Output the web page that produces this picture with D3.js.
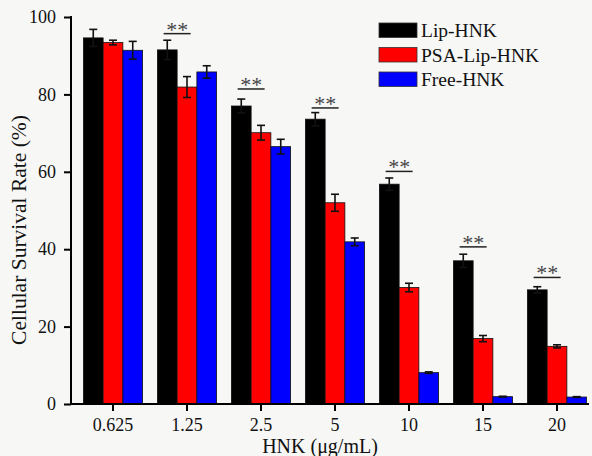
<!DOCTYPE html>
<html>
<head>
<meta charset="utf-8">
<script src="https://cdn.jsdelivr.net/npm/d3@7"></script>
<style>
  body { margin: 0; background: #f7f7f6; }
  svg { display: block; }
  text { font-family: "Liberation Serif", "Times New Roman", serif; fill: #111; }
</style>
</head>
<body>
<script>
var doses = ['0.625', '1.25', '2.5', '5', '10', '15', '20'];
var groups = ['Lip-HNK', 'PSA-Lip-HNK', 'Free-HNK'];
var colors = ['#000000', '#ff0000', '#0000ff'];

var lipHnk = [94.6, 91.5, 77.0, 73.6, 56.8, 37.0, 29.5];
var lipHnkErr = [2.2, 2.5, 1.8, 1.7, 1.6, 1.7, 0.8];
var psaLipHnk = [93.4, 81.9, 70.1, 52.0, 30.1, 16.9, 14.9];
var psaLipHnkErr = [0.6, 2.7, 1.9, 2.2, 1.1, 0.8, 0.4];
var freeHnk = [91.4, 85.8, 66.5, 41.9, 8.1, 1.9, 1.8];
var freeHnkErr = [2.3, 1.6, 1.9, 1.0, 0.2, 0.1, 0.1];

// "**" marks: which dose, and the height of the bracket line
var sigDoses = ['1.25', '2.5', '5', '10', '15', '20'];
var sigLevel = [95.7, 81.4, 76.5, 60.1, 40.6, 32.7];

var yTicks = [0, 20, 40, 60, 80, 100];

var width = 592, height = 456;

var svg = d3.select('body').append('svg')
    .attr('width', width)
    .attr('height', height);

var x = d3.scaleBand()
    .domain(doses)
    .range([76, 594])
    .paddingInner(0.2)
    .paddingOuter(0.1);

var xSub = d3.scaleBand()
    .domain(groups)
    .range([0, x.bandwidth()]);

var y = d3.scaleLinear()
    .domain([0, 100])
    .range([404, 17]);

var values = [lipHnk, psaLipHnk, freeHnk];
var errs = [lipHnkErr, psaLipHnkErr, freeHnkErr];

var rows = [];
doses.forEach(function(d, i) {
  groups.forEach(function(g, j) {
    rows.push({ dose: d, group: g, color: colors[j], value: values[j][i], err: errs[j][i] });
  });
});

// bars
svg.append('g')
  .selectAll('rect')
  .data(rows)
  .enter().append('rect')
    .attr('x', function(d) { return x(d.dose) + xSub(d.group); })
    .attr('y', function(d) { return y(d.value); })
    .attr('width', xSub.bandwidth())
    .attr('height', function(d) { return y(0) - y(d.value); })
    .attr('fill', function(d) { return d.color; })
    .attr('stroke', '#111')
    .attr('stroke-width', 0.8);

// error bars
var eb = svg.append('g')
    .attr('stroke', '#111')
    .attr('stroke-width', 1.6)
  .selectAll('g')
  .data(rows)
  .enter().append('g');

eb.append('line')
    .attr('x1', function(d) { return x(d.dose) + xSub(d.group) + xSub.bandwidth() / 2; })
    .attr('x2', function(d) { return x(d.dose) + xSub(d.group) + xSub.bandwidth() / 2; })
    .attr('y1', function(d) { return y(d.value - d.err); })
    .attr('y2', function(d) { return y(d.value + d.err); });

[-1, 1].forEach(function(s) {
  eb.append('line')
      .attr('x1', function(d) { return x(d.dose) + xSub(d.group) + xSub.bandwidth() / 2 - 4; })
      .attr('x2', function(d) { return x(d.dose) + xSub(d.group) + xSub.bandwidth() / 2 + 4; })
      .attr('y1', function(d) { return y(d.value + s * d.err); })
      .attr('y2', function(d) { return y(d.value + s * d.err); });
});

// significance marks
var sig = svg.append('g')
  .selectAll('g')
  .data(sigDoses)
  .enter().append('g')
    .attr('transform', function(d, i) {
      return 'translate(' + (x(d) + xSub.bandwidth()) + ',' + y(sigLevel[i]) + ')';
    });

sig.append('line')
    .attr('x1', -13.5)
    .attr('x2', 13.5)
    .attr('stroke', '#222')
    .attr('stroke-width', 1.5);

sig.append('text')
    .attr('text-anchor', 'middle')
    .attr('y', 3)
    .style('font-size', '22px')
    .style('fill', '#444')
    .text('**');

// axes
var xAxis = svg.append('g')
    .attr('transform', 'translate(0,' + y(0) + ')')
    .call(d3.axisBottom(x).tickSize(7).tickSizeOuter(0));
xAxis.select('.domain').remove();
xAxis.selectAll('line').attr('stroke', '#000').attr('stroke-width', 2);
xAxis.selectAll('text')
    .attr('dy', '0.95em')
    .style('font-size', '18px')
    .style('font-family', '"Liberation Serif", serif')
    .attr('fill', '#111');
xAxis.append('line')
    .attr('x1', 70)
    .attr('x2', 589)
    .attr('stroke', '#000')
    .attr('stroke-width', 2);

var yAxis = svg.append('g')
    .attr('transform', 'translate(71,0)')
    .call(d3.axisLeft(y).tickValues(yTicks).tickSize(7).tickSizeOuter(0).tickPadding(8));
yAxis.select('.domain').remove();
yAxis.selectAll('line').attr('stroke', '#000').attr('stroke-width', 2);
yAxis.selectAll('text')
    .style('font-size', '18px')
    .style('font-family', '"Liberation Serif", serif')
    .attr('fill', '#111');
yAxis.append('line')
    .attr('y1', 16)
    .attr('y2', 405)
    .attr('stroke', '#000')
    .attr('stroke-width', 2);

// axis titles
svg.append('text')
    .attr('transform', 'translate(26,230) rotate(-90)')
    .attr('text-anchor', 'middle')
    .style('font-size', '21.5px')
    .text('Cellular Survival Rate (%)');

svg.append('text')
    .attr('x', 320)
    .attr('y', 453)
    .attr('text-anchor', 'middle')
    .style('font-size', '20px')
    .text('HNK (μg/mL)');

// legend
var legend = svg.append('g')
  .selectAll('g')
  .data(groups)
  .enter().append('g')
    .attr('transform', function(d, i) { return 'translate(379,' + (23 + i * 24.5) + ')'; });

legend.append('rect')
    .attr('width', 38)
    .attr('height', 14.5)
    .attr('fill', function(d, i) { return colors[i]; })
    .attr('stroke', '#333')
    .attr('stroke-width', 0.8);

legend.append('text')
    .attr('x', 42)
    .attr('y', 14)
    .style('font-size', '19.5px')
    .text(function(d) { return d; });
</script>
</body>
</html>
